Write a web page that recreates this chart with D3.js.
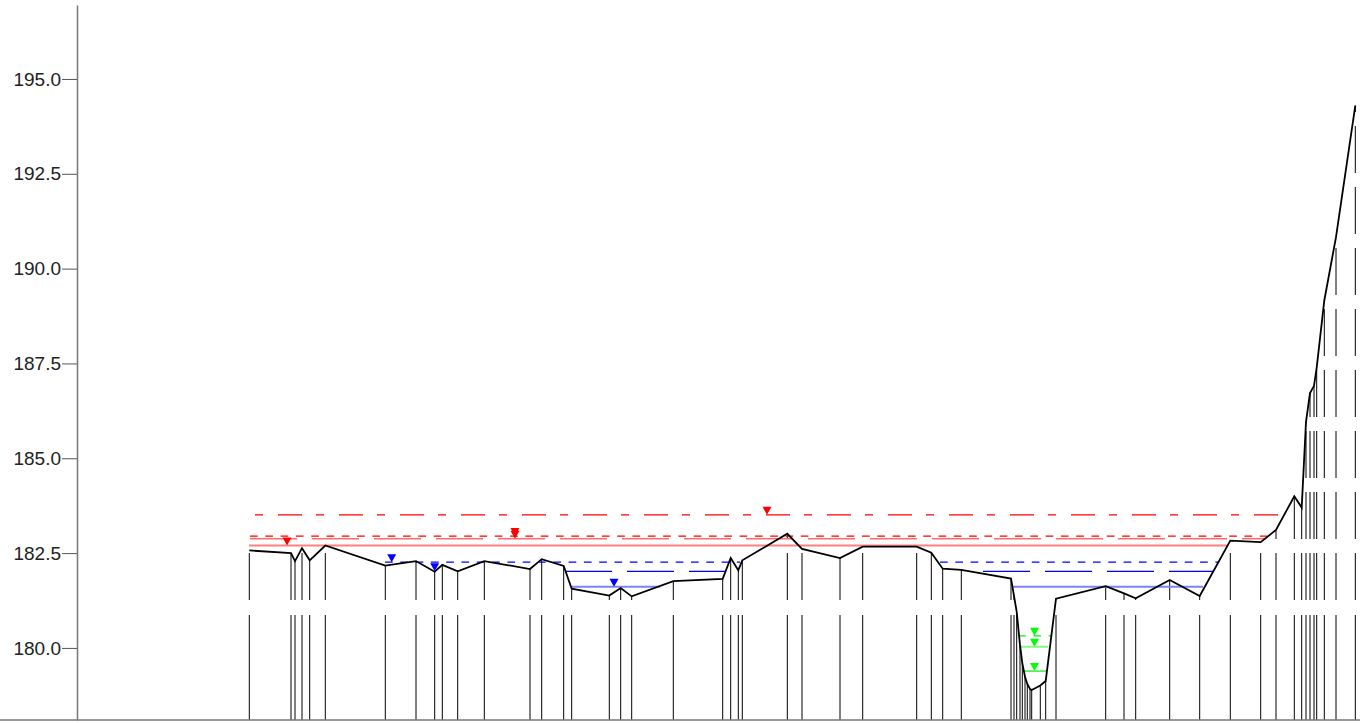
<!DOCTYPE html>
<html>
<head>
<meta charset="utf-8">
<script src="https://cdn.jsdelivr.net/npm/d3@7"></script>
<style>
	body { margin: 0; background: #fff; }
	#app { width: 1360px; height: 723px; }
</style>
</head>
<body>
<div id="app"></div>
<script>
'use strict'

// Ground profile (station, elevation)
const stations = [172.3, 214, 218, 225, 232.7, 248.3, 308.3, 339, 357.7, 365.3, 380.7, 407.3, 453, 464.7,
	486.7, 494.7, 532.3, 543.7, 554.7, 596.3, 645.7, 653.7, 661.3, 665.3, 710.3, 725, 763, 785.7, 839.7,
	854.3, 865.7, 884.3, 934, 937, 939.7, 943, 945.3, 948, 950.3, 953, 954.7, 963.3, 968.7, 979, 1028.7,
	1047, 1058.7, 1092.7, 1122.7, 1153.3, 1183.7, 1199, 1217.3, 1224.7, 1229, 1233, 1237, 1239.7, 1247.3,
	1259, 1278.3]
const elevations = [182.57, 182.50, 182.29, 182.63, 182.31, 182.70, 182.17, 182.29, 182.01, 182.19, 182.02,
	182.29, 182.08, 182.34, 182.16, 181.56, 181.38, 181.58, 181.36, 181.76, 181.82, 182.37, 182.05, 182.31,
	183.01, 182.61, 182.37, 182.67, 182.67, 182.51, 182.09, 182.06, 181.83, 181.37, 180.95, 180.08, 179.60,
	179.24, 179.05, 178.92, 178.89, 179.01, 179.13, 181.30, 181.63, 181.44, 181.31, 181.79, 181.37, 182.83,
	182.79, 183.11, 184.00, 183.70, 185.96, 186.72, 186.91, 187.39, 189.16, 190.83, 194.30]

// Water surfaces: level, stretches [from, to], style
const wsLevels = [183.51, 182.95, 182.88, 182.70, 182.26, 182.02, 181.61, 180.32, 180.03, 179.39]
const wsExtents = [
	[[178, 1206]],
	[[173, 1191]],
	[[173, 1188]],
	[[172, 1150]],
	[[308, 663], [863, 1141]],
	[[488, 648], [906, 1136]],
	[[495, 583], [934, 1126]],
	[[941, 974]],
	[[944, 971]],
	[[946, 970]]
]
const wsColors = ['#ff0000', '#ff0000', '#ff6a6a', '#ff8080', '#0000ff', '#0000ff', '#8080ff', '#00ee00', '#80ff80', '#00ee00']
const markerColors = ['#ff0000', '#ff0000', '#ff0000', '#ff0000', '#0000ff', '#0000ff', '#0000ff', '#00ff00', '#00ff00', '#00ff00']
const wsDashes = ['8,15,24,14', '7.7,7.6', '47,15', null, '7.7,7.6', '47,15', null, '7.7,7.6', null, null]
const wsWidths = [1.2, 1.3, 1.6, 2, 1.2, 1.2, 2, 1.2, 2, 1.2]

// Water surface markers (station, level index)
const markerStations = [210, 438, 438, 690, 314.7, 357.7, 537, 957.5, 957.5, 957.5]
const markerLevels = [3, 1, 2, 0, 4, 5, 6, 7, 8, 9]

const yTicks = [180.0, 182.5, 185.0, 187.5, 190.0, 192.5, 195.0]

const main = () => {
	const width = 1360
	const height = 723
	const left = 77
	const top = 5
	const bottom = 720

	const x = d3.scaleLinear().domain([0, 1283]).range([left, width])
	const y = d3.scaleLinear().domain([178.1, 196.95]).range([bottom, top])

	const svg = d3.select('#app').append('svg')
		.attr('width', width)
		.attr('height', height)
		.style('background-color', '#fff')

	const ground = stations.map((s, i) => ({ s, z: elevations[i] }))

	/*
	 * Vertical station lines, broken into dashes anchored at the bottom
	 */
	const pattern = [bottom - 615, 15]
	for (let k = 0; k < 12; k++) pattern.push(47, 14)
	svg.append('g')
		.selectAll('line')
		.data(ground)
		.enter().append('line')
		.attr('x1', d => x(d.s))
		.attr('x2', d => x(d.s))
		.attr('y1', y.range()[0])
		.attr('y2', d => y(d.z))
		.style('stroke', '#000')
		.style('stroke-width', 1)
		.style('stroke-dasharray', pattern.join(','))

	/*
	 * Water surface lines
	 */
	const segs = []
	wsLevels.forEach((z, i) => {
		wsExtents[i].forEach(e => segs.push({ z, i, a: e[0], b: e[1] }))
	})
	svg.append('g')
		.selectAll('line')
		.data(segs)
		.enter().append('line')
		.attr('x1', d => x(d.a))
		.attr('x2', d => x(d.b))
		.attr('y1', d => y(d.z))
		.attr('y2', d => y(d.z))
		.style('stroke', d => wsColors[d.i])
		.style('stroke-width', d => wsWidths[d.i])
		.style('stroke-dasharray', d => wsDashes[d.i])

	/*
	 * Ground line
	 */
	const line = d3.line().x(d => x(d.s)).y(d => y(d.z))
	svg.append('path')
		.datum(ground)
		.attr('d', line)
		.style('fill', 'none')
		.style('stroke', '#000')
		.style('stroke-width', 1.8)

	/*
	 * Axes
	 */
	const yAxis = svg.append('g')
		.attr('transform', `translate(${left}, 0)`)
		.call(d3.axisLeft(y).tickValues(yTicks).tickSize(15).tickSizeOuter(0).tickFormat(d3.format('.1f')))
	yAxis.select('.domain').style('stroke', '#777').style('stroke-width', 1.5)
	yAxis.selectAll('.tick line').style('stroke', '#555')
	yAxis.selectAll('.tick text')
		.attr('x', -16)
		.style('font-family', 'Liberation Sans, Arial, sans-serif')
		.style('font-size', '19px')
		.style('fill', '#222')

	svg.append('line')
		.attr('x1', 0)
		.attr('x2', width)
		.attr('y1', bottom)
		.attr('y2', bottom)
		.style('stroke', '#777')
		.style('stroke-width', 1.5)

	/*
	 * Markers
	 */
	svg.append('g')
		.selectAll('path')
		.data(markerStations.map((s, i) => ({ s, i: markerLevels[i] })))
		.enter().append('path')
		.attr('d', 'M-4.5,-8L4.5,-8L0,0Z')
		.attr('transform', d => `translate(${x(d.s)}, ${y(wsLevels[d.i])})`)
		.style('fill', d => markerColors[d.i])
}

main()
</script>
</body>
</html>
